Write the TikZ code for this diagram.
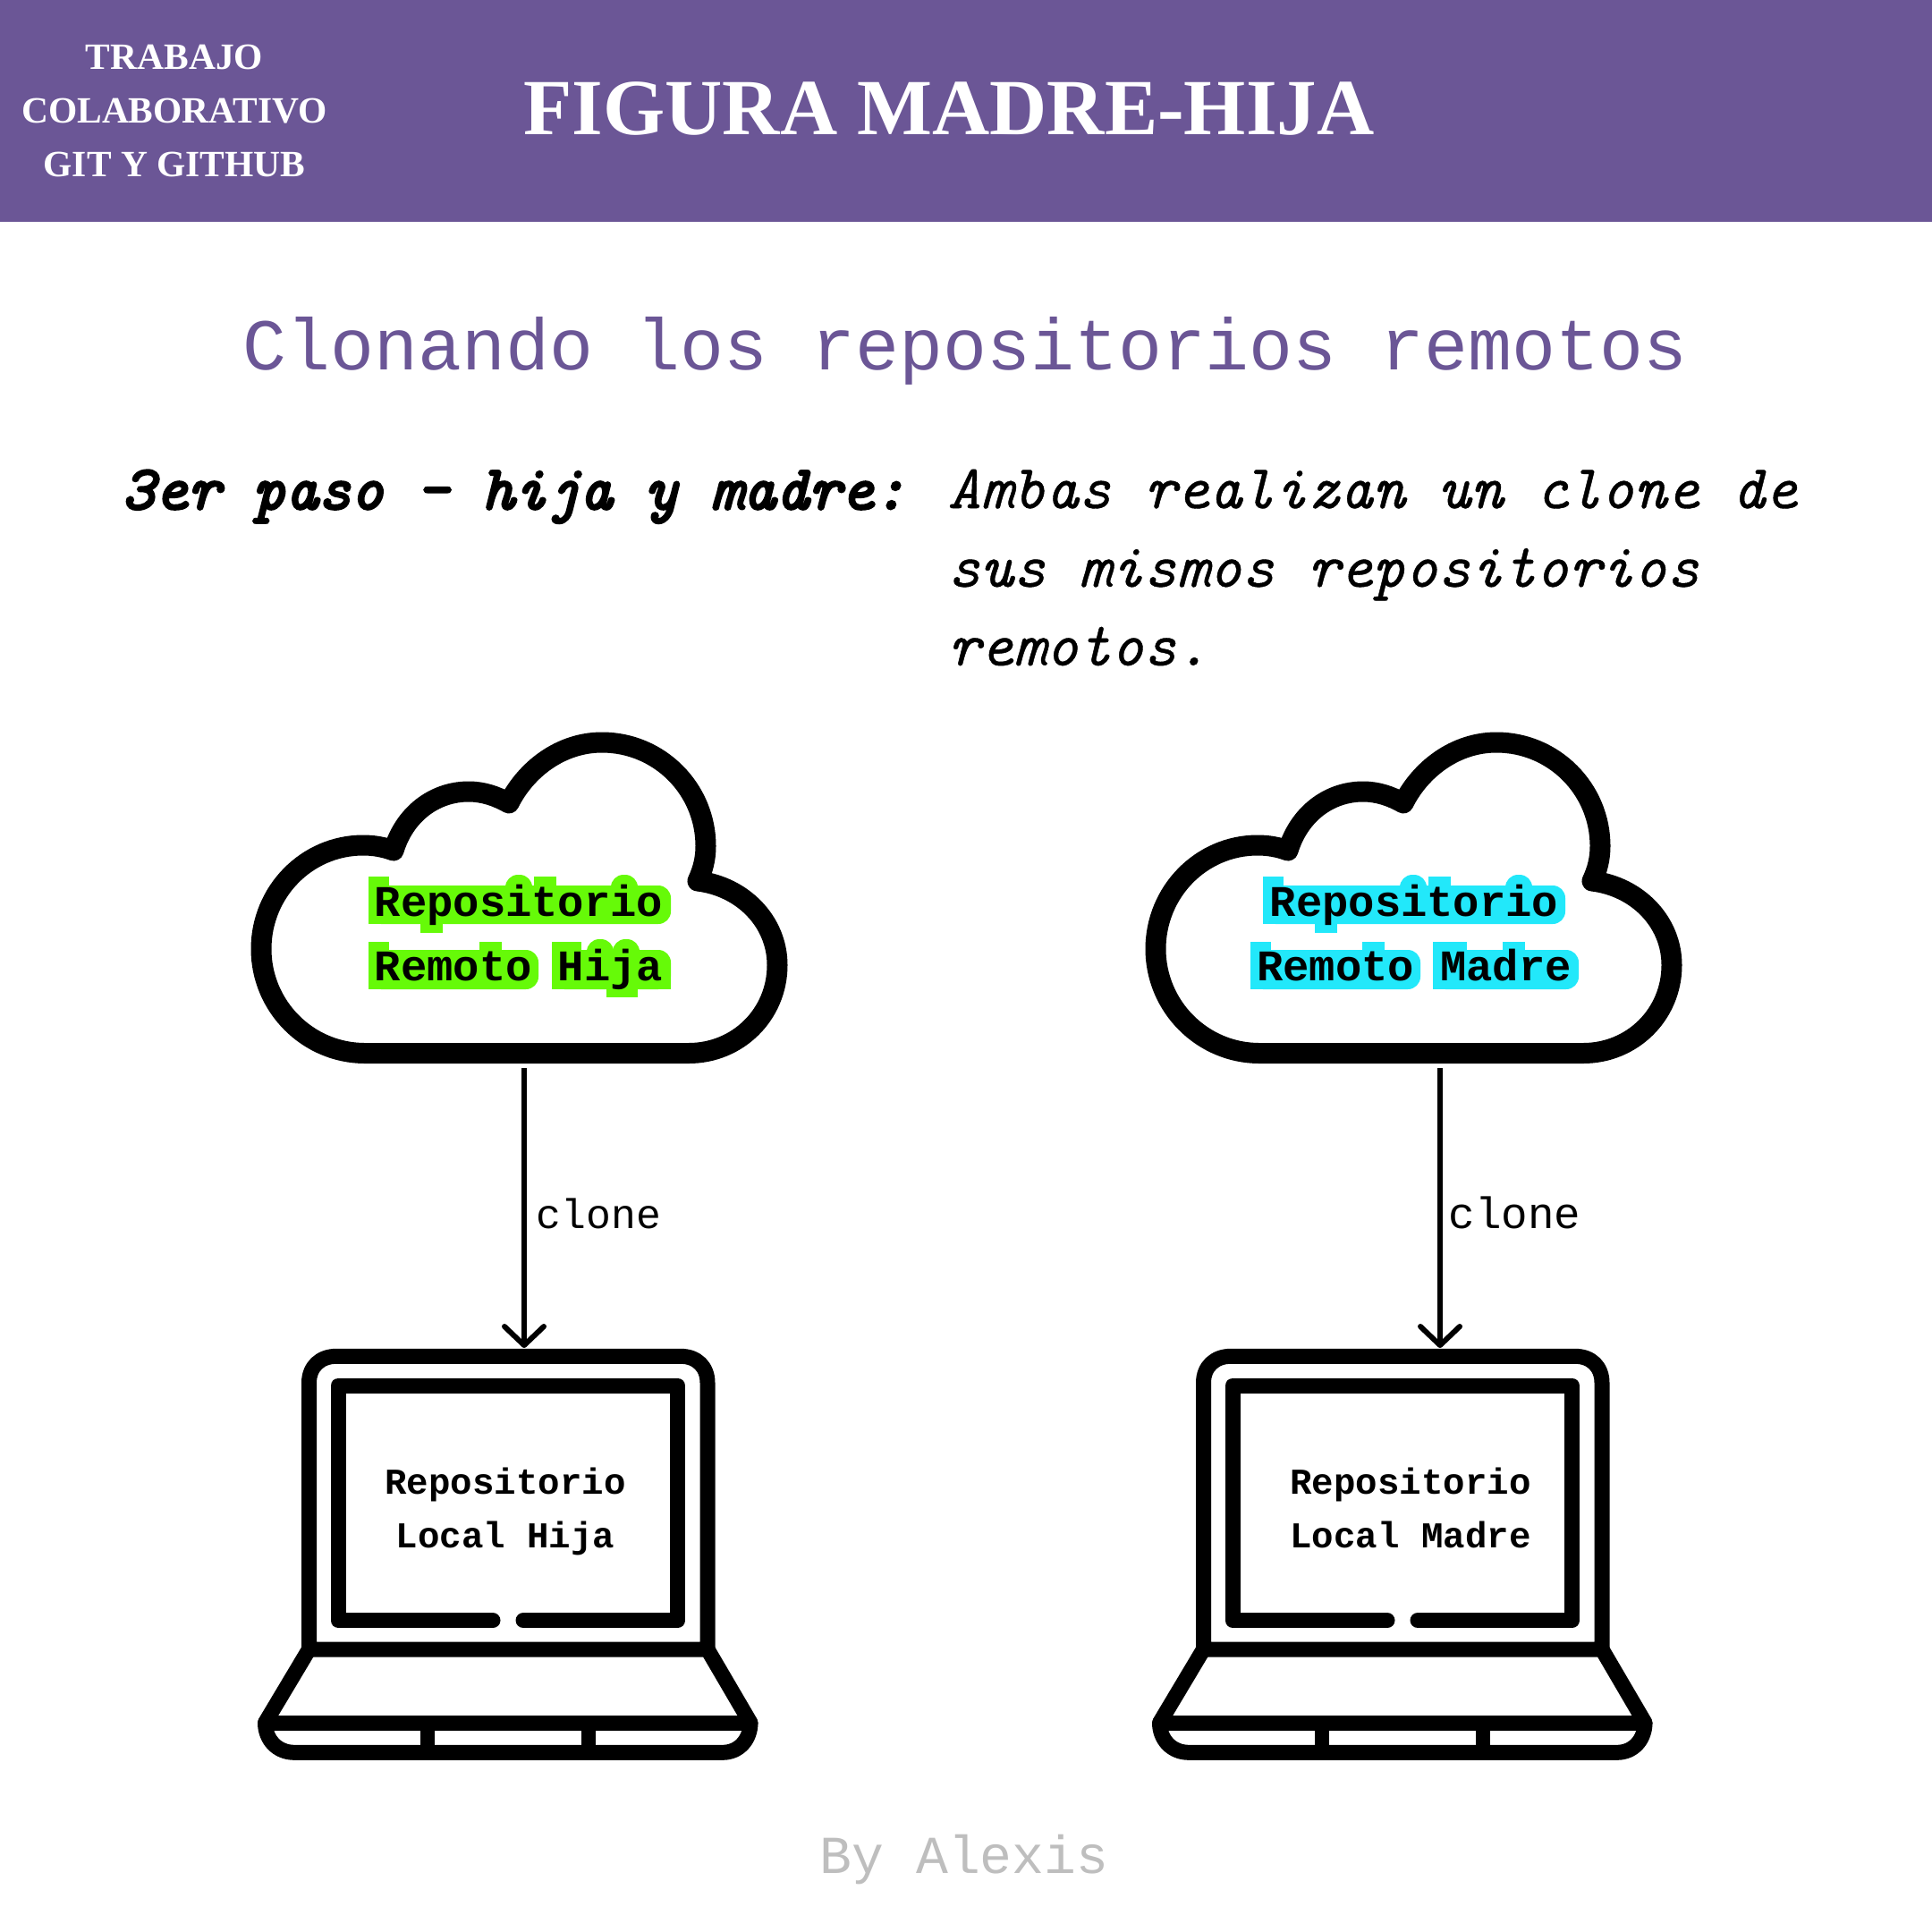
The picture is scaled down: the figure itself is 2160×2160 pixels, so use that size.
\documentclass[tikz,border=0pt]{standalone}
\usepackage{fontspec}
\usetikzlibrary{arrows.meta,positioning}
\setmainfont{Liberation Serif}
\setmonofont{Liberation Mono}
\newfontface\stepfont[FakeBold=0.6]{lmmono10-italic.otf}
\newfontface\stepboldfont[FakeBold=4]{lmmono10-italic.otf}
\definecolor{headerpurple}{RGB}{107,86,150}
\definecolor{hijagreen}{RGB}{102,250,8}
\definecolor{madrecyan}{RGB}{34,232,250}
\definecolor{signgray}{RGB}{190,190,190}
\tikzset{
  iconline/.style={line width=1.7mm,line join=round,line cap=round},
  cloudline/.style={line width=2.3mm,line join=round,line cap=round},
  remotelabel/.style={align=center,inner sep=0,font=\ttfamily\bfseries\fontsize{13.9}{20.4}\selectfont},
  locallabel/.style={align=center,inner sep=0,font=\ttfamily\bfseries\fontsize{11.6}{17}\selectfont},
  clonearrow/.style={line width=0.6mm,-{Straight Barb[length=2.1mm,width=4.4mm,round]}}
}

\begin{document}
\begin{tikzpicture}[x=0.1mm,y=-0.1mm]
    \useasboundingbox (0,0) rectangle (2160,2160);

    % Header
    \fill[headerpurple] (0,0) rectangle (2160,248);
    \node[inner sep=0,align=center,text=white,font=\bfseries\fontsize{11.8}{17.2}\selectfont] (course) at (195,124) {TRABAJO\\COLABORATIVO\\GIT Y GITHUB};
    \node[inner sep=0,text=white,font=\bfseries\fontsize{25.3}{30}\selectfont] (title) at (1061,121) {FIGURA MADRE-HIJA};

    % Subtitle
    \node[inner sep=0,anchor=base,text=headerpurple,font=\ttfamily\fontsize{23.2}{28}\selectfont] (subtitle) at (1079,413) {Clonando los repositorios remotos};

    % Step text
    \node[inner sep=0,anchor=base west,font=\stepboldfont\fontsize{19.8}{25}\selectfont] (steplead) at (136,569) {3er paso - hija y madre:};
    \node[inner sep=0,anchor=north west,align=left,font=\stepfont\fontsize{19.8}{25}\selectfont] (stepbody) at (1059,524) {Ambas realizan un clone de\\sus mismos repositorios\\remotos.};

    % Highlights, first line
    \foreach \dx/\tone in {0/hijagreen,1000/madrecyan} {
        \begin{scope}[shift={(\dx,0)}]
            \foreach \ax/\ay/\bx/\by in {412/990/750/1033,565/978/595/1008,683/978/713/1008}
                \fill[\tone,rounded corners=1.4mm] (\ax,\ay) rectangle (\bx,\by);
            \foreach \ax/\ay/\bx/\by in {412/980/435/1033,470/1025/495/1043,597/980/622/1020}
                \fill[\tone] (\ax,\ay) rectangle (\bx,\by);
        \end{scope}
    }

    % Highlights, second line
    \foreach \ax/\ay/\bx/\by in {412/1062/602/1106,617/1062/750/1106,656/1050/686/1080,685/1050/715/1080}
        \fill[hijagreen,rounded corners=1.4mm] (\ax,\ay) rectangle (\bx,\by);
    \foreach \ax/\ay/\bx/\by in {412/1053/435/1106,536/1053/561/1090,617/1053/650/1106,678/1095/713/1115,730/1080/750/1106}
        \fill[hijagreen] (\ax,\ay) rectangle (\bx,\by);
    \foreach \ax/\ay/\bx/\by in {1398/1062/1588/1106,1602/1062/1765/1106}
        \fill[madrecyan,rounded corners=1.4mm] (\ax,\ay) rectangle (\bx,\by);
    \foreach \ax/\ay/\bx/\by in {1398/1053/1421/1106,1523/1053/1548/1090,1602/1053/1640/1106,1680/1053/1705/1090}
        \fill[madrecyan] (\ax,\ay) rectangle (\bx,\by);

    \foreach \dx/\who/\arrowx/\screenx in {0/Hija/586/565,1000/Madre/1610/1577} {
        % Cloud
        \begin{scope}[shift={(\dx,0)}]
            \draw[cloudline] (408,1177.5)
                .. controls (344,1177.5) and (292,1125) .. (292,1061)
                .. controls (292,997) and (343,945) .. (406,945)
                .. controls (418,945) and (429,947) .. (440,951)
                .. controls (452,911) and (485,885) .. (524,885)
                .. controls (540,885) and (555,890) .. (569,898)
                .. controls (588,860) and (627,830) .. (673,830)
                .. controls (737,830) and (789,882) .. (789,946)
                .. controls (789,960) and (786,972) .. (780,985)
                .. controls (830,991) and (869,1030) .. (869,1079)
                .. controls (869,1134) and (825,1177.5) .. (770,1177.5)
                -- cycle;

            % Laptop
            \draw[iconline] (345.5,1844) -- (345.5,1546) .. controls (345.5,1528) and (358,1516.3) .. (376,1516.3)
                -- (761,1516.3) .. controls (779,1516.3) and (791,1528) .. (791,1546) -- (791,1844) -- cycle;
            \draw[iconline] (551,1811.7) -- (378,1811.7) -- (378,1549) -- (757.7,1549) -- (757.7,1811.7) -- (585,1811.7);
            \draw[iconline] (345.5,1844) -- (296.5,1926) .. controls (296.5,1945) and (310,1959.3) .. (329,1959.3)
                -- (808,1959.3) .. controls (826,1959.3) and (839,1945) .. (839,1926) -- (791,1844);
            \draw[iconline] (296.5,1926.3) -- (839,1926.3);
            \draw[line width=1.6mm] (478,1926.3) -- (478,1959.3);
            \draw[line width=1.6mm] (658,1926.3) -- (658,1959.3);
        \end{scope}

        % Labels
        \node[remotelabel,anchor=base] (remote\who) at (580+\dx+\dx*0.001,1096) {Repositorio\\Remoto \who};
        \node[locallabel,anchor=base] (local\who) at (\screenx,1730) {Repositorio\\Local \who};

        % Arrow
        \coordinate (cloudout\who) at (\arrowx,1194);
        \coordinate (lapin\who) at (\arrowx,1507);
        \draw[clonearrow] (cloudout\who) -- (lapin\who);
    }

    \node[inner sep=0,anchor=base west,font=\ttfamily\fontsize{13.2}{16}\selectfont] (cloneHija) at (599,1373) {clone};
    \node[inner sep=0,anchor=base west,font=\ttfamily\fontsize{14}{16}\selectfont] (cloneMadre) at (1619,1373) {clone};

    % Footer
    \node[inner sep=0,anchor=base,text=signgray,font=\ttfamily\fontsize{17}{20}\selectfont] (byline) at (1078,2094) {By Alexis};
\end{tikzpicture}
\end{document}
